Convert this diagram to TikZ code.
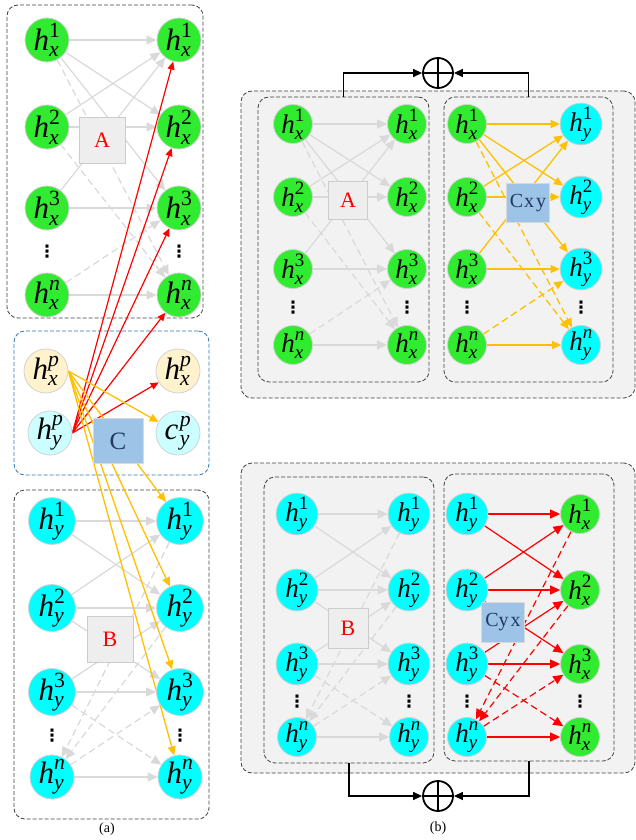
\documentclass[tikz,border=0pt]{standalone}
\usepackage{amsmath}
\usepackage{fontspec}
\setmainfont{Liberation Serif}
\newfontfamily\symfont{DejaVu Sans}
\usetikzlibrary{arrows.meta, positioning, backgrounds}
\pgfdeclarelayer{panel}
\pgfdeclarelayer{edge}
\pgfsetlayers{panel,edge,main}

\definecolor{hgreen}{RGB}{48,235,48}
\definecolor{hcyan}{RGB}{0,255,255}
\definecolor{palor}{RGB}{255,242,204}
\definecolor{palcy}{RGB}{204,255,255}
\definecolor{matgray}{RGB}{238,238,238}
\definecolor{cblue}{RGB}{157,195,230}
\definecolor{cdark}{RGB}{31,56,100}
\definecolor{egray}{RGB}{217,217,217}
\definecolor{eorange}{RGB}{255,192,0}
\definecolor{pgray}{RGB}{242,242,242}
\definecolor{pblue}{RGB}{46,117,182}

% h with sub- and superscript
\newcommand{\hh}[2]{$\text{\itshape h}^{\text{#2}}_{\text{\itshape #1}}$}
\newcommand{\cc}[2]{$\text{\itshape c\kern1.5pt}\vphantom{\text{\itshape h}}^{\text{#2}}_{\text{\itshape #1}}$}
\newcommand{\vd}{{\symfont ⋮}}

% edge patterns between two columns
\newcommand{\edgesA}[3]{%
  \foreach \i/\j in {1/1,1/2,1/3,2/1,2/2,3/1,3/3,n/n} \draw[#3] (#1\i) -- (#2\j);
  \foreach \i/\j in {1/n,2/n,n/3} \draw[#3,dsh] (#1\i) -- (#2\j);}
\newcommand{\edgesB}[3]{%
  \foreach \i/\j in {1/1,1/2,2/1,2/2,2/3,3/2,3/3,n/n} \draw[#3] (#1\i) -- (#2\j);
  \foreach \i/\j in {n/3,3/n} \draw[#3,dsh] (#1\i) -- (#2\j);
  \foreach \j in {1,2} \draw[#3,dsh] (#2\j) -- (#1n);}

\begin{document}
\begin{tikzpicture}[
    x=1pt, y=-1pt,
    hn/.style={circle, draw=gray!35, line width=0.8pt, inner sep=0pt,
               minimum size=44pt, font=\fontsize{31}{33}\selectfont},
    rt/.style={minimum size=39pt, font=\fontsize{27}{29}\selectfont},
    gx/.style={hn, fill=hgreen},
    cy/.style={hn, fill=hcyan},
    ox/.style={hn, fill=palor},
    pc/.style={hn, fill=palcy},
    dots/.style={font=\fontsize{17}{17}\selectfont\bfseries, inner sep=0pt},
    mat/.style={rectangle, draw=gray!40, fill=matgray, line width=0.8pt,
                minimum width=46pt, minimum height=46pt, text=red,
                font=\fontsize{22}{24}\selectfont},
    cmat/.style={rectangle, draw=gray!30, fill=cblue, line width=0.8pt,
                 minimum width=46pt, minimum height=46pt, text=cdark,
                 font=\fontsize{22}{24}\selectfont},
    frame/.style={rectangle, draw=black!75, line width=0.8pt,
                  dash pattern=on 4pt off 2pt, rounded corners=11pt,
                  inner sep=0pt, outer sep=0pt},
    dsh/.style={dash pattern=on 7pt off 4pt},
    garr/.style={draw=egray, line width=1.2pt, -{Triangle[length=10pt,width=9pt]}},
    oarr/.style={draw=eorange, line width=1.3pt, -{Triangle[length=9pt,width=8pt]}},
    rarr/.style={draw=red, line width=1.2pt, -{Triangle[length=8pt,width=7pt]}},
    rbig/.style={draw=red, line width=1.2pt, -{Triangle[length=10pt,width=9pt]}},
    sumnode/.style={circle, draw, line width=1.8pt, minimum size=30pt, inner sep=0pt,
        path picture={\draw[line width=1.8pt]
          (path picture bounding box.north) -- (path picture bounding box.south)
          (path picture bounding box.west) -- (path picture bounding box.east);}},
    sumarr/.style={draw=black, line width=1.3pt, -{Triangle[length=9pt,width=8pt]}},
    caption/.style={font=\fontsize{14}{16}\selectfont},
]
\useasboundingbox (0,0) rectangle (636,840);

% ---------- (a) ----------
\foreach \k/\y/\lab in {1/40/1, 2/127/2, 3/208/3, n/295/{\itshape n}} {
  \node[gx] (aL\k) at (47,\y) {\hh{x}{\lab}};
  \node[gx] (aR\k) at (179,\y) {\hh{x}{\lab}};
}
\node[dots] (aLd) at (47,252) {\vd};
\node[dots] (aRd) at (179,252) {\vd};
\node[mat] (matA) at (102,140) {A};

\node[ox] (pxL) at (46,371) {\hh{x}{\itshape p}};
\node[pc] (pyL) at (50,433) {\hh{y}{\itshape p}};
\node[ox] (pxR) at (178,371) {\hh{x}{\itshape p}};
\node[pc] (cyR) at (178,433) {\cc{y}{\itshape p}};
\node[cmat, minimum width=50pt, minimum height=45pt, font=\fontsize{25}{27}\selectfont] (matC) at (118,441) {C};

\foreach \k/\y/\lab in {1/521/1, 2/608/2, 3/692/3, n/777/{\itshape n}} {
  \node[cy] (bL\k) at (52,\y) {\hh{y}{\lab}};
  \node[cy] (bR\k) at (180,\y) {\hh{y}{\lab}};
}
\node[dots] (bLd) at (52,736) {\vd};
\node[dots] (bRd) at (180,736) {\vd};
\node[mat] (matB) at (110,639) {B};
\node[caption] (capa) at (107,829) {(a)};

% ---------- (b) top ----------
\foreach \k/\y/\lab in {1/124/1, 2/197/2, 3/269/3, n/345/{\itshape n}} {
  \node[gx, rt] (tL\k) at (293,\y) {\hh{x}{\lab}};
  \node[gx, rt] (tR\k) at (407,\y) {\hh{x}{\lab}};
  \node[gx, rt] (uL\k) at (467,\y) {\hh{x}{\lab}};
  \node[cy, rt] (uR\k) at (581,\y) {\hh{y}{\lab}};
}
\foreach \c/\x in {tL/293, tR/407, uL/467, uR/581}
  \node[dots] (\c d) at (\x,308) {\vd};
\node[mat, minimum width=39pt, minimum height=38pt] (matA2) at (348,200) {A};
\node[cmat, minimum width=43pt, minimum height=39pt, font=\fontsize{20}{22}\selectfont]
  (matCxy) at (528,203) {C\kern1pt x\kern2pt y};
\node[sumnode] (sumT) at (438,73) {};

% ---------- (b) bottom ----------
\foreach \k/\y/\lab in {1/514/1, 2/590/2, 3/664/3, n/737/{\itshape n}} {
  \node[cy, rt] (vL\k) at (297,\y) {\hh{y}{\lab}};
  \node[cy, rt] (vR\k) at (409,\y) {\hh{y}{\lab}};
  \node[cy, rt] (wL\k) at (467,\y) {\hh{y}{\lab}};
  \node[gx, rt] (wR\k) at (580,\y) {\hh{x}{\lab}};
}
\foreach \c/\x in {vL/297, vR/409, wL/467, wR/580}
  \node[dots] (\c d) at (\x,702) {\vd};
\node[mat, minimum width=40pt, minimum height=40pt] (matB2) at (348,628) {B};
\node[cmat, minimum width=43pt, minimum height=40pt, font=\fontsize{20}{22}\selectfont]
  (matCyx) at (503,622) {Cy\kern2pt x};
\node[sumnode] (sumB) at (438,796) {};
\node[caption] (capb) at (438,828) {(b)};

% ---------- frames ----------
\begin{pgfonlayer}{panel}
  \node[frame, minimum width=196pt, minimum height=313pt] (boxA) at (105,161.5) {};
  \node[frame, draw=pblue, minimum width=195pt, minimum height=144pt] (boxC) at (111.5,403) {};
  \node[frame, minimum width=195pt, minimum height=329pt] (boxB) at (111.5,654.5) {};
  \node[frame, fill=pgray, minimum width=394pt, minimum height=307pt] (outT) at (438,244.5) {};
  \node[frame, minimum width=171pt, minimum height=285pt] (boxA2) at (343.5,239.5) {};
  \node[frame, minimum width=169pt, minimum height=285pt] (boxCxy) at (528.5,239.5) {};
  \node[frame, fill=pgray, minimum width=394pt, minimum height=310pt] (outB) at (438,618) {};
  \node[frame, minimum width=170pt, minimum height=286pt] (boxB2) at (349,620) {};
  \node[frame, minimum width=170pt, minimum height=287pt] (boxCyx) at (529,617.5) {};
\end{pgfonlayer}

% ---------- connections ----------
\begin{pgfonlayer}{edge}
  \edgesA{aL}{aR}{garr}
  \edgesB{bL}{bR}{garr}
  \foreach \k in {1,2,3,n} \draw[rarr] (pyL.east) -- (aR\k);
  \draw[rarr] (pyL.east) -- (pxR);
  \draw[oarr] (pxL.east) -- (cyR);
  \foreach \k in {1,2,3,n} \draw[oarr] (pxL.east) -- (bR\k);

  \edgesA{tL}{tR}{garr}
  \edgesA{uL}{uR}{oarr}
  \edgesB{vL}{vR}{garr}
  \edgesB{wL}{wR}{rbig}
\end{pgfonlayer}

% sums
\draw[sumarr] (boxA2.north) |- (sumT);
\draw[sumarr] (boxCxy.north) |- (sumT);
\draw[sumarr] (boxB2.south) |- (sumB);
\draw[sumarr] (boxCyx.south) |- (sumB);

\end{tikzpicture}
\end{document}
